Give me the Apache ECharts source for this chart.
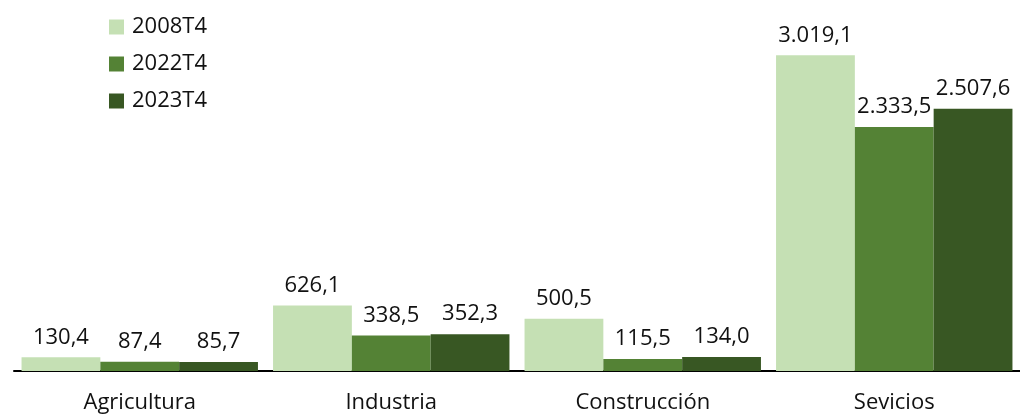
<!DOCTYPE html>
<html>
<head>
<meta charset="utf-8">
<script src="https://cdn.jsdelivr.net/npm/echarts@6/dist/echarts.min.js"></script>
<style>
  html, body { margin: 0; padding: 0; background: #fff; }
  #chart { width: 1020px; height: 416px; }
</style>
</head>
<body>
<div id="chart"></div>
<script>
// categories and series
var categories = ['Agricultura', 'Industria', 'Construcción', 'Sevicios']
var seriesNames = ['2008T4', '2022T4', '2023T4']
var values2008 = [130.4, 626.1, 500.5, 3019.1]
var values2022 = [87.4, 338.5, 115.5, 2333.5]
var values2023 = [85.7, 352.3, 134.0, 2507.6]

var colors = ['#c5e0b4', '#548235', '#385723']
var font = '"Open Sans", Lato, sans-serif'

function fmt(v) {
  var parts = v.toFixed(1).split('.')
  var intPart = parts[0].replace(/\B(?=(\d{3})+(?!\d))/g, '.')
  return intPart + ',' + parts[1]
}

function makeSeries(name, data, color) {
  return {
    name: name,
    type: 'bar',
    data: data,
    barGap: '0%',
    barCategoryGap: '6%',
    itemStyle: { color: color },
    label: {
      show: true,
      position: 'top',
      distance: 9,
      color: '#111',
      fontFamily: font,
      fontSize: 22,
      formatter: function (p) { return fmt(p.value) }
    },
    animation: false
  }
}

var chart = echarts.init(document.getElementById('chart'))
chart.setOption({
  color: colors,
  grid: { left: 14, right: 0, top: 5, bottom: 45, containLabel: false },
  legend: {
    data: seriesNames,
    orient: 'vertical',
    left: 104,
    top: 11,
    itemWidth: 15,
    itemHeight: 15,
    itemGap: 15,
    icon: 'rect',
    textStyle: { fontFamily: font, fontSize: 22, color: '#111', padding: [0, 0, 0, 3] }
  },
  xAxis: {
    type: 'category',
    data: categories,
    axisLine: { lineStyle: { color: '#000', width: 2 } },
    axisTick: { show: false },
    axisLabel: { fontFamily: font, fontSize: 22, color: '#111', margin: 21 }
  },
  yAxis: {
    type: 'value',
    min: 0,
    max: 3500,
    show: false,
    splitLine: { show: false }
  },
  series: [
    makeSeries(seriesNames[0], values2008, colors[0]),
    makeSeries(seriesNames[1], values2022, colors[1]),
    makeSeries(seriesNames[2], values2023, colors[2])
  ]
})
</script>
</body>
</html>
